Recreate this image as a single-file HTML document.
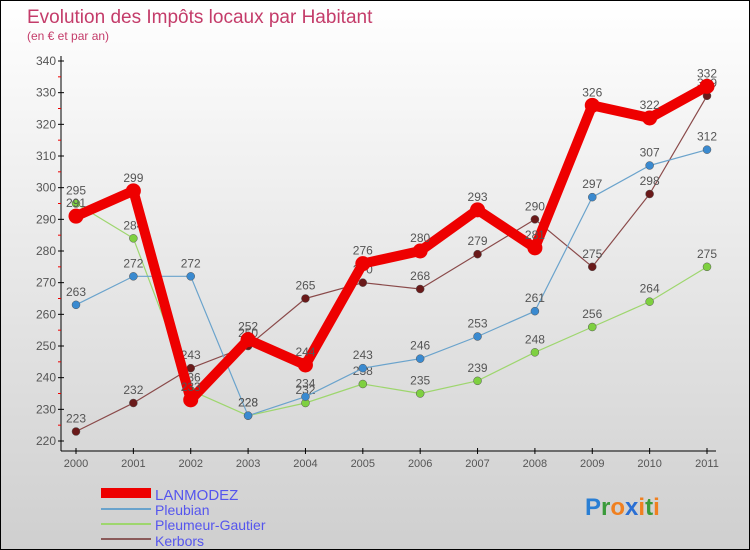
<!DOCTYPE html>
<html><head><meta charset="utf-8"><style>
body{margin:0}
#c{position:relative;width:750px;height:550px;box-sizing:border-box;border:1px solid #000;background:linear-gradient(#ffffff,#cfcfcf);font-family:"Liberation Sans",sans-serif;overflow:hidden}
</style></head><body>
<div id="c">
<svg id="s" width="750" height="550" style="position:absolute;left:0;top:0">
<text x="26" y="22" font-size="19" fill="#c43c6a">Evolution des Impôts locaux par Habitant</text>
<text x="26" y="39" font-size="12" fill="#c43c6a">(en € et par an)</text>
<g id="axes"></g><g id="series"></g>
<g>
<rect x="100" y="487" width="50" height="10" fill="#ee0000"/>
<text x="154" y="499" font-size="15" fill="#5555ee">LANMODEZ</text>
<line x1="100" y1="508" x2="150" y2="508" stroke="#6aa3cc" stroke-width="2"/>
<text x="154" y="514" font-size="14" fill="#5555ee">Pleubian</text>
<line x1="100" y1="523" x2="150" y2="523" stroke="#9ed66e" stroke-width="2"/>
<text x="154" y="529" font-size="14" fill="#5555ee">Pleumeur-Gautier</text>
<line x1="100" y1="538" x2="150" y2="538" stroke="#8a5a5a" stroke-width="2"/>
<text x="154" y="545" font-size="14" fill="#5555ee">Kerbors</text>
</g>
<text x="584" y="514" font-size="24" font-weight="bold"><tspan fill="#2a7fd4">P</tspan><tspan fill="#3a9a3a">r</tspan><tspan fill="#f08020">o</tspan><tspan fill="#2a6fd4">x</tspan><tspan fill="#f08020">i</tspan><tspan fill="#3a9a3a">t</tspan><tspan fill="#f08020">i</tspan></text>
</svg>
</div>
<script>
const years=[2000,2001,2002,2003,2004,2005,2006,2007,2008,2009,2010,2011];
const lanmodez=[291,299,233,252,244,276,280,293,281,326,322,332];
const pleubian=[263,272,272,228,234,243,246,253,261,297,307,312];
const pleumeur=[295,284,236,228,232,238,235,239,248,256,264,275];
const kerbors=[223,232,243,250,265,270,268,279,290,275,298,329];
const yTicks=[220,230,240,250,260,270,280,290,300,310,320,330,340];
const NS="http://www.w3.org/2000/svg";
const X=i=>75+i*(706-75)/(years.length-1);
const Y=v=>440-(v-220)*(380/120);
function mk(t,a,p){const e=document.createElementNS(NS,t);for(const k in a)e.setAttribute(k,a[k]);p.appendChild(e);return e;}
const ax=document.getElementById('axes');
let e=mk('line',{x1:60,y1:55,x2:60,y2:450,stroke:'#000'},ax);


e=mk('line',{x1:60,y1:450,x2:715,y2:450,stroke:'#000'},ax);


yTicks.forEach((v,i)=>{
  mk('line',{x1:57,y1:Y(v),x2:63,y2:Y(v),stroke:'#000'},ax);
  if(i<yTicks.length-1) mk('line',{x1:57,y1:Y(v+5),x2:60,y2:Y(v+5),stroke:'#e00'},ax);
  const t=mk('text',{x:55,y:Y(v)+4,'font-size':12,fill:'#555','text-anchor':'end'},ax);t.textContent=v;
  
  
});
years.forEach((y,i)=>{
  mk('line',{x1:X(i),y1:447,x2:X(i),y2:453,stroke:'#000'},ax);
  const t=mk('text',{x:X(i),y:466,'font-size':11,fill:'#555','text-anchor':'middle'},ax);t.textContent=y;
  
  
});
const sg=document.getElementById('series');
function draw(d,name,col,w,r,dot){
  const g=mk('g',{},sg);
  
  
  mk('polyline',{points:d.map((v,i)=>X(i)+','+Y(v)).join(' '),fill:'none',stroke:col,'stroke-width':w,'stroke-linejoin':'round'},g);
  d.forEach((v,i)=>{
    const c=mk('circle',{cx:X(i),cy:Y(v),r:r,fill:dot,stroke:col==='#ee0000'?'none':'#555','stroke-width':0.5},g);
    
    
    const t=mk('text',{x:X(i),y:Y(v)-9,'font-size':12,fill:'#555','text-anchor':'middle'},g);t.textContent=v;
    
    
  });
}
draw(kerbors,'kerbors','#8a4a4a',1.2,4,'#6a1a1a');
draw(pleumeur,'pleumeur-gautier','#9ed66e',1.2,4,'#7ed040');
draw(pleubian,'pleubian','#6aa3cc',1.2,4,'#3a8ad0');
draw(lanmodez,'lanmodez','#ee0000',10,7.5,'#ee0000');
</script>
</body></html>
